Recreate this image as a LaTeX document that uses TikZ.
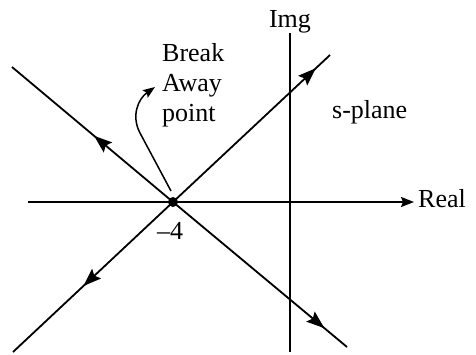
\documentclass[tikz,border=0pt]{standalone}
\usepackage{fontspec}
\setmainfont{Liberation Serif}
\usetikzlibrary{arrows.meta,decorations.markings}

\begin{document}
\begin{tikzpicture}[x=1pt, y=-1pt,
  axis/.style={line width=1.8pt},
  branch/.style={line width=1.8pt, postaction={decorate},
    decoration={markings, mark=at position #1 with {\arrow{Stealth[length=18pt,width=13pt,inset=3pt]}}}},
  lbl/.style={font=\fontsize{26}{30}\selectfont, inner sep=0pt}
]
  \useasboundingbox (0,0) rectangle (476,354);
  % Axes
  \coordinate (re0) at (28,202);
  \coordinate (re1) at (414,202);
  \coordinate (im0) at (290,33);
  \coordinate (im1) at (290,352);
  \draw[axis, -{Stealth[length=13pt,width=10pt,inset=2pt]}] (re0) -- (re1);
  \draw[axis] (im0) -- (im1);
  \node[lbl, anchor=base] (img) at (290,27) {Img};
  \node[lbl, anchor=base west] (real) at (418,207) {Real};
  \node[lbl, anchor=base west] (splane) at (332,118) {s-plane};
  % Break away point and branches
  \node[circle, fill, inner sep=0pt, minimum size=10pt] (p) at (173,202) {};
  \node[lbl, anchor=base] (m4) at (170,239) {–4};
  \coordinate (ur) at (330,55);
  \coordinate (ul) at (12,67);
  \coordinate (ll) at (13,352);
  \coordinate (lr) at (347,347);
  \draw[branch=0.91] (p.center) -- (ur);
  \draw[branch=0.49] (p.center) -- (ul);
  \draw[branch=0.56] (p.center) -- (ll);
  \draw[branch=0.87] (p.center) -- (lr);
  % Label with pointer
  \node[lbl, anchor=north west, align=left] (bap) at (162,43) {Break\\Away\\point};
  \coordinate (bs) at (171,191);
  \coordinate (bm) at (140,133);
  \coordinate (bt) at (155,87);
  \draw[line width=1.5pt, -{Stealth[length=12pt,width=9pt,inset=2pt]}]
    (bs) -- (bm) .. controls (131,116) and (138,99) .. (bt);
\end{tikzpicture}
\end{document}
